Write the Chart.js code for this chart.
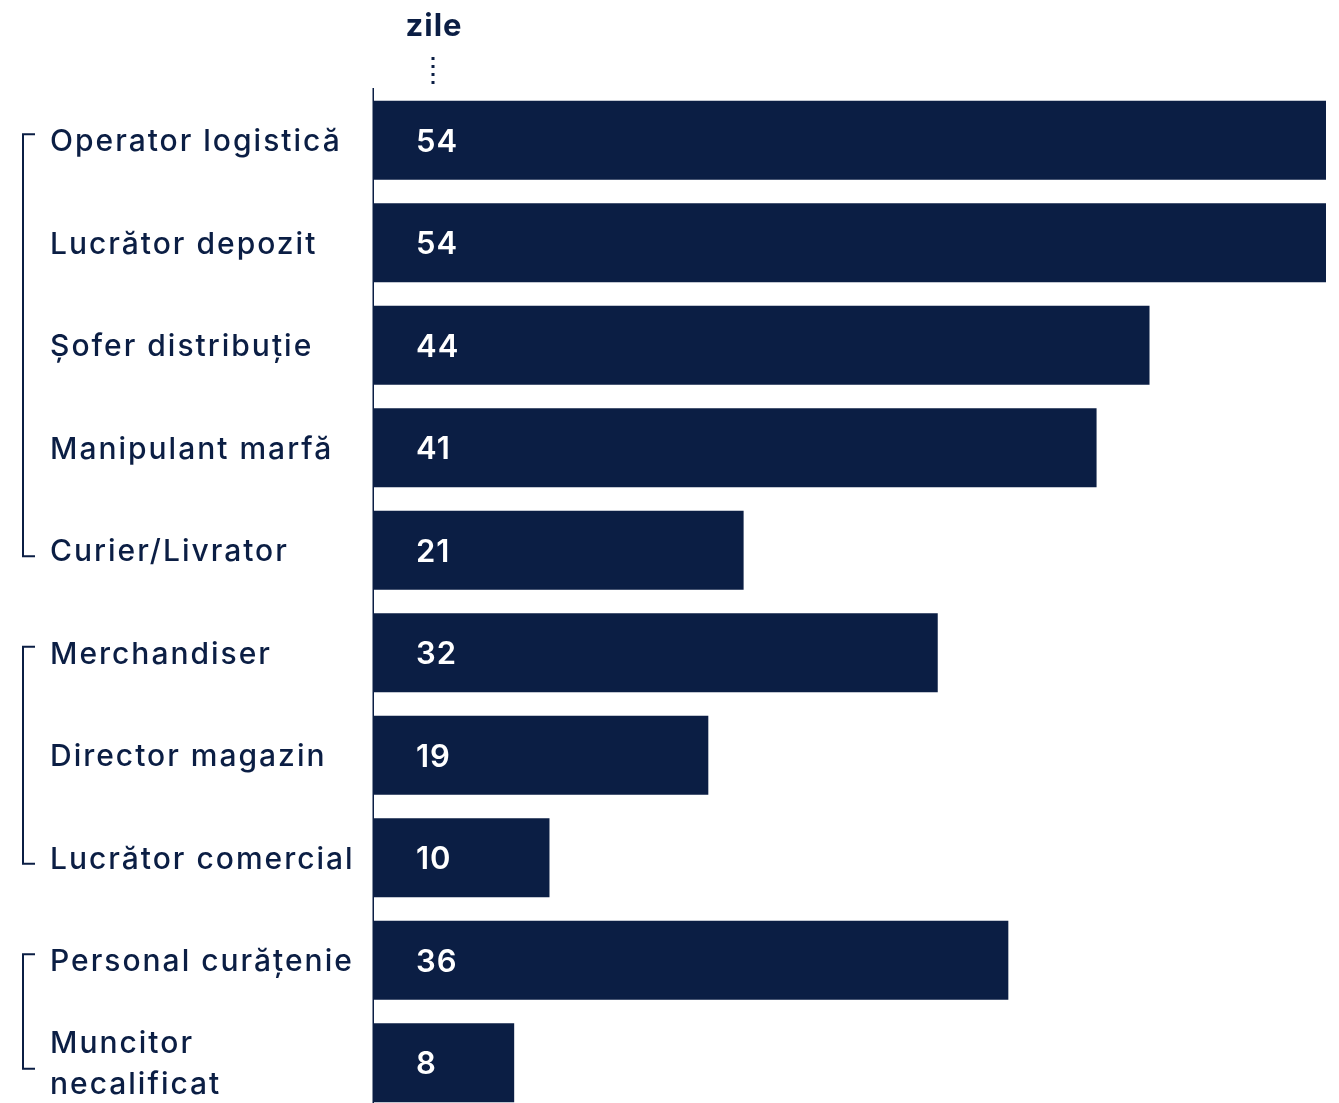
<!DOCTYPE html>
<html>
<head>
<meta charset="utf-8">
<script src="https://cdn.jsdelivr.net/npm/chart.js@4"></script>
<style>
  html, body { margin: 0; padding: 0; background: #fff; overflow: hidden; }
  #wrap { position: relative; width: 1339px; height: 1120px; }
</style>
</head>
<body>
<div id="wrap"><canvas id="c"></canvas></div>
<script>
const categories = [
  "Operator logistică",
  "Lucrător depozit",
  "Șofer distribuție",
  "Manipulant marfă",
  "Curier/Livrator",
  "Merchandiser",
  "Director magazin",
  "Lucrător comercial",
  "Personal curățenie",
  ["Muncitor", "necalificat"]
];
const values = [54, 54, 44, 41, 21, 32, 19, 10, 36, 8];
const groups = [[0, 4], [5, 7], [8, 9]];
const unitLabel = "zile";

const NAVY = "#0b1e44";
const FONT = "Inter, 'Open Sans', sans-serif";

const decor = {
  id: "decor",
  afterDatasetsDraw(chart) {
    const ctx = chart.ctx;
    const y = chart.scales.y;
    const x = chart.scales.x;
    const area = chart.chartArea;
    ctx.save();
    // axis line
    ctx.strokeStyle = NAVY;
    ctx.lineWidth = 1.5;
    ctx.beginPath();
    ctx.moveTo(area.left + 0.25, area.top - 1);
    ctx.lineTo(area.left + 0.25, chart.height);
    ctx.stroke();

    // value labels inside bars
    ctx.fillStyle = "#ffffff";
    ctx.font = "600 31px " + FONT;
    ctx.letterSpacing = "1px";
    ctx.textAlign = "left";
    ctx.textBaseline = "middle";
    values.forEach((v, i) => {
      ctx.fillText(String(v), x.getPixelForValue(0) + 43, y.getPixelForValue(i) + 2);
    });

    // category labels
    ctx.fillStyle = NAVY;
    ctx.font = "500 30px " + FONT;
    ctx.letterSpacing = "2px";
    categories.forEach((c, i) => {
      const cy = y.getPixelForValue(i);
      const lines = Array.isArray(c) ? c : [c];
      const lh = 41;
      const start = cy - (lines.length - 1) * lh / 2;
      lines.forEach((ln, k) => ctx.fillText(ln, 50, start + k * lh + 2));
    });
    ctx.letterSpacing = "0px";

    // brackets
    ctx.strokeStyle = NAVY;
    ctx.lineWidth = 2;
    groups.forEach(([a, b]) => {
      const t = y.getPixelForValue(a) - 6;
      const bt = y.getPixelForValue(b) + 6;
      ctx.beginPath();
      ctx.moveTo(35, t);
      ctx.lineTo(23, t);
      ctx.lineTo(23, bt);
      ctx.lineTo(35, bt);
      ctx.stroke();
    });

    // unit label + dotted line
    const ux = x.getPixelForValue(0) + 61;
    ctx.fillStyle = NAVY;
    ctx.font = "700 31px " + FONT;
    ctx.letterSpacing = "1px";
    ctx.textAlign = "center";
    ctx.fillText(unitLabel, ux, 27);
    ctx.letterSpacing = "0px";
    ctx.lineWidth = 3;
    ctx.setLineDash([3, 5]);
    ctx.beginPath();
    ctx.moveTo(ux - 1, 57);
    ctx.lineTo(ux - 1, 86);
    ctx.stroke();
    ctx.restore();
  }
};

new Chart(document.getElementById("c"), {
  type: "bar",
  data: {
    labels: categories,
    datasets: [{
      data: values,
      backgroundColor: NAVY,
      borderWidth: 0,
      categoryPercentage: 1,
      barPercentage: 0.772
    }]
  },
  options: {
    indexAxis: "y",
    responsive: true,
    maintainAspectRatio: false,
    animation: false,
    layout: { padding: { left: 373, right: 13, top: 89, bottom: 6 } },
    plugins: { legend: { display: false }, tooltip: { enabled: false } },
    scales: {
      x: { display: false, min: 0, max: 54 },
      y: { display: false }
    }
  },
  plugins: [decor]
});
</script>
</body>
</html>
